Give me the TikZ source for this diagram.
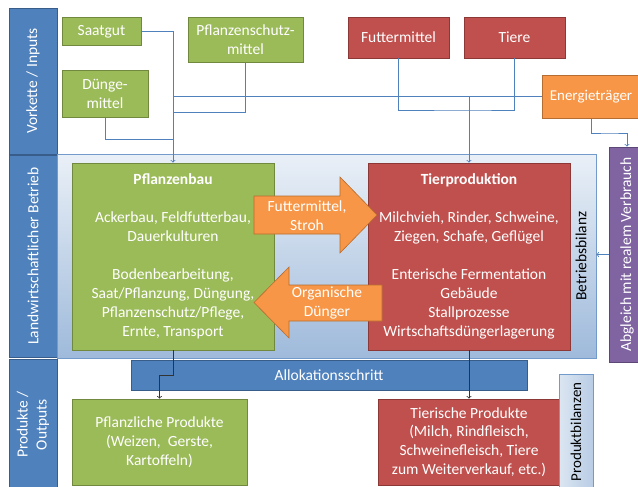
\documentclass[tikz,border=0pt]{standalone}
\usepackage{fontspec}
\setmainfont{Carlito}
\usepackage{xcolor}
\usepackage{tikz}
\usetikzlibrary{shapes,arrows}
\usetikzlibrary{positioning}
\definecolor{ogreen}{HTML}{9BBB59}
\definecolor{ogreenline}{HTML}{71893F}
\definecolor{ored}{HTML}{C0504D}
\definecolor{oredline}{HTML}{8C3836}
\definecolor{oorange}{HTML}{F79646}
\definecolor{oorangeline}{HTML}{B66D31}
\definecolor{oblue}{HTML}{4F81BD}
\definecolor{obluedark}{HTML}{385D8A}
\definecolor{opurple}{HTML}{8064A2}
\definecolor{opurpleline}{HTML}{5C4776}
\tikzstyle{box} = [rectangle, draw, line width=0.8pt, text=white,
    align=center, inner sep=0pt, font=\fontsize{15.5}{19}\selectfont]
\tikzstyle{plant} = [box, fill=ogreen, draw=ogreenline]
\tikzstyle{animal} = [box, fill=ored, draw=oredline]
\tikzstyle{energy} = [box, fill=oorange, draw=oorangeline]
\tikzstyle{band} = [box, fill=oblue, draw=obluedark, rotate=90]
\tikzstyle{check} = [box, fill=opurple, draw=opurpleline, rotate=90]
\tikzstyle{balance} = [rectangle, draw=oblue!80, line width=0.8pt,
    top color=oblue!12!white, bottom color=oblue!55!white, inner sep=0pt]
\tikzstyle{flow} = [fill=oorange, draw=oorangeline, line width=0.6pt]
\tikzstyle{flowtext} = [text=white, align=center, inner sep=0pt,
    font=\fontsize{15.5}{19}\selectfont]
\tikzstyle{line} = [draw, oblue, line width=0.8pt, ->]
\tikzstyle{edge} = [draw, oblue, line width=0.8pt, -]
\tikzstyle{pline} = [draw, black!80, line width=0.8pt, ->]

\begin{document}
\begin{tikzpicture}[x=1pt, y=-1pt]
  \useasboundingbox (0,0) rectangle (638,487);
  \fill [white] (0,0) rectangle (638,487);

  % Bands
  \node [band, minimum width=146, minimum height=48] (vorkette) at (33,81) {Vorkette / Inputs};
  \node [band, minimum width=202, minimum height=48] (betrieb) at (33,256) {Landwirtschaftlicher Betrieb};
  \node [band, minimum width=131, minimum height=48] (produkte) at (33,424.5) {Produkte /\\Outputs};

  % Betriebsbilanz
  \node [balance, minimum width=539, minimum height=204] (bilanz) at (326.5,256) {};
  \node [rotate=90, font=\fontsize{15.5}{19}\selectfont] (bilanzlabel) at (581,256) {Betriebsbilanz};

  % Inputs
  \node [plant, minimum width=79, minimum height=28] (saat) at (101.5,31.5) {Saatgut};
  \node [plant, minimum width=115, minimum height=45] (psm) at (245.5,39.5) {Pflanzenschutz-\\mittel};
  \node [plant, minimum width=86, minimum height=47] (duenger) at (105,93.5) {Dünge-\\mittel};
  \node [animal, minimum width=101, minimum height=41] (futter) at (398.5,37.5) {Futtermittel};
  \node [animal, minimum width=101, minimum height=41] (tiere) at (514.5,37.5) {Tiere};
  \node [energy, minimum width=98, minimum height=43, font=\fontsize{15}{19}\selectfont] (energie) at (591,96.5) {Energieträger};
  \node [check, minimum width=215, minimum height=36] (abgleich) at (627,254.5) {Abgleich mit realem Verbrauch};

  % Betrieb
  \node [plant, minimum width=202, minimum height=187] (pflanzenbau) at (173,256.5) {
    \textbf{Pflanzenbau}\\[19pt]
    Ackerbau, Feldfutterbau,\\
    Dauerkulturen\\[19pt]
    Bodenbearbeitung,\\
    Saat/Pflanzung, Düngung,\\
    Pflanzenschutz/Pflege,\\
    Ernte, Transport};
  \node [animal, minimum width=202, minimum height=187] (tierprod) at (469,256.5) {
    \textbf{Tierproduktion}\\[19pt]
    Milchvieh, Rinder, Schweine,\\
    Ziegen, Schafe, Geflügel\\[19pt]
    Enterische Fermentation\\
    Gebäude\\
    Stallprozesse\\
    Wirtschaftsdüngerlagerung};

  % Flows between the two
  \path [flow] (254,196) -- (340,196) -- (340,177) -- (377,215) -- (340,253)
    -- (340,234) -- (254,234) -- cycle;
  \node [flowtext] (fstroh) at (307,216) {Futtermittel,\\Stroh};
  \path [flow] (382,285) -- (289,285) -- (289,267) -- (254,302.5) -- (289,338)
    -- (289,321) -- (382,321) -- cycle;
  \node [flowtext] (odung) at (327,303) {Organische\\Dünger};

  % Outputs
  \node [band, rotate=-90, minimum width=396, minimum height=30] (alloc) at (329,375) {Allokationsschritt};
  \node [plant, minimum width=175, minimum height=86] (pprod) at (159.5,442) {
    Pflanzliche Produkte\\(Weizen,~ Gerste,\\Kartoffeln)};
  \node [animal, minimum width=182, minimum height=86, font=\fontsize{15.5}{18.7}\selectfont] (tprod) at (469,442) {
    Tierische Produkte\\(Milch, Rindfleisch,\\Schweinefleisch, Tiere\\zum Weiterverkauf, etc.)};
  \node [rectangle, draw=oblue!80, line width=0.8pt, left color=oblue!20!white,
    right color=oblue!40!white, rotate=90, inner sep=0pt, minimum width=116,
    minimum height=34, font=\fontsize{15}{19}\selectfont] (pbilanz) at (576,432) {Produktbilanzen};

  % Connectors
  \coordinate (dj) at (173,139);
  \coordinate (pj) at (173,112);
  \coordinate (ej) at (173,96.5);
  \coordinate (tj) at (469,110);
  \coordinate (aj) at (610,133);
  \path [line] (saat.east) -| (pflanzenbau.north);
  \path [edge] (duenger.south) |- (dj);
  \path [edge] (psm.south) |- (pj);
  \path [edge] (energie.west) -- (ej);
  \path [line] (energie.west) -| (tierprod.north);
  \path [edge] (futter.south) |- (tj) -| (tiere.south);
  \path [line] (energie.south) |- (aj) -| (abgleich.east);
  \path [line] (abgleich.north) -- (abgleich.north -| bilanz.east);
  \path [pline] (pflanzenbau.south) -- ++(0,25) -| (pprod.north);
  \path [pline] (tierprod.south) -- (tprod.north);

\end{tikzpicture}
\end{document}
